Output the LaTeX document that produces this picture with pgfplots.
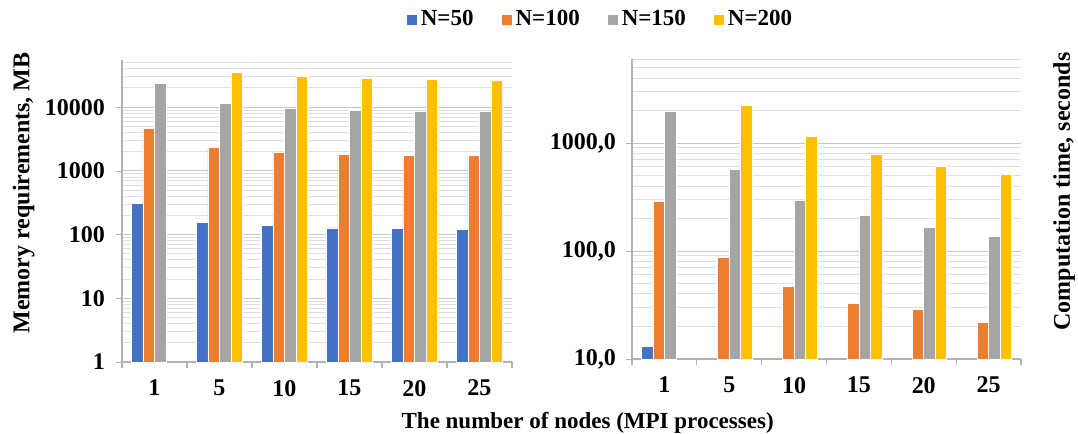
\documentclass[border=0pt]{standalone}
\usepackage{fontspec}
\setmainfont{Liberation Serif}
\usepackage{pgfplots}
\pgfplotsset{compat=1.18}
\definecolor{cA}{HTML}{4472C4}
\definecolor{cB}{HTML}{ED7D31}
\definecolor{cC}{HTML}{A5A5A5}
\definecolor{cD}{HTML}{FFC000}
\begin{document}
\begin{tikzpicture}
\useasboundingbox (0pt,0pt) rectangle (539pt,-217pt);
\begin{axis}[
  scale only axis, anchor=south west,
  at={(61pt,-181pt)}, width=195pt, height=151pt,
  ymode=log, log origin=infty,
  xmin=-0.5, xmax=5.5,
  ybar=0pt, bar width=5.75pt,
  xtick={-0.5,0.5,...,4.5}, xticklabels={1,5,10,15,20,25},
  extra x ticks={5.5}, extra x tick labels={},
  xtick style={draw=gray!60, line width=0.6pt},
  tick align=outside, major tick length=3pt, minor tick length=0pt,
  ytick style={draw=gray!60},
  axis x line*=bottom, axis y line*=left,
  axis line style={gray!60, line width=0.6pt},
  ymajorgrids, yminorgrids,
  major grid style={gray!45, line width=0.5pt},
  minor grid style={gray!25, line width=0.5pt},
  tick label style={font=\fontsize{12}{14}\selectfont\bfseries},
  xticklabel style={xshift=16.25pt, yshift=-2.5pt},
  ymin=1, ymax=55000,
  ytick={1,10,100,1000,10000}, yticklabels={1,10,100,1000,10000},
  minor ytick={2,3,...,9,20,30,...,90,200,300,...,900,2000,3000,...,9000,20000,30000,40000,50000},
  yticklabel style={xshift=-2pt},
  ylabel={Memory requirements, MB},
  y label style={at={(axis description cs:-0.252,0.56)}, rotate=0, anchor=center, font=\fontsize{12}{14}\selectfont\bfseries},
  legend columns=4,
  legend style={at={(axis description cs:1.2295,1.133)}, anchor=center, draw=none, fill=none,
    font=\fontsize{11.5}{13}\selectfont\bfseries,
    /tikz/every even column/.append style={column sep=12pt}},
  legend image code/.code={\fill[#1, draw=none] (0pt,-2.5pt) rectangle (5pt,2.5pt);},
  after end axis/.code={\node[font=\fontsize{11.5}{13}\selectfont\bfseries] at (axis description cs:1.194,-0.203) {The number of nodes (MPI processes)};},
]
\addplot[fill=cA, draw=white, line width=0.4pt] coordinates {(0,310) (1,156) (2,137) (3,127) (4,124) (5,121)};
\addplot[fill=cB, draw=white, line width=0.4pt] coordinates {(0,4690) (1,2335) (2,1972) (3,1836) (4,1771) (5,1771)};
\addplot[fill=cC, draw=white, line width=0.4pt] coordinates {(0,23500) (1,11400) (2,9640) (3,8980) (4,8650) (5,8650)};
\addplot[fill=cD, draw=white, line width=0.4pt] coordinates {(1,34900) (2,30600) (3,28500) (4,27400) (5,26500)};
\legend{N=50,N=100,N=150,N=200}
\end{axis}
\begin{axis}[
  scale only axis, anchor=south west,
  at={(316pt,-179.5pt)}, width=194.5pt, height=150pt,
  ymode=log, log origin=infty,
  xmin=-0.5, xmax=5.5,
  ybar=0pt, bar width=5.75pt,
  xtick={-0.5,0.5,...,4.5}, xticklabels={1,5,10,15,20,25},
  extra x ticks={5.5}, extra x tick labels={},
  xtick style={draw=gray!60, line width=0.6pt},
  tick align=outside, major tick length=3pt, minor tick length=0pt,
  ytick style={draw=gray!60},
  axis x line*=bottom, axis y line*=left,
  axis line style={gray!60, line width=0.6pt},
  ymajorgrids, yminorgrids,
  major grid style={gray!45, line width=0.5pt},
  minor grid style={gray!25, line width=0.5pt},
  tick label style={font=\fontsize{12}{14}\selectfont\bfseries},
  xticklabel style={xshift=16.21pt, yshift=-2.5pt},
  ymin=10, ymax=6000,
  ytick={10,100,1000}, yticklabels={{10,0},{100,0},{1000,0}},
  minor ytick={20,30,...,90,200,300,...,900,2000,3000,4000,5000,6000},
  yticklabel style={xshift=-1.5pt},
  ylabel={Computation time, seconds},
  y label style={at={(axis description cs:1.1105,0.558)}, rotate=0, anchor=center, font=\fontsize{12}{14}\selectfont\bfseries},
]
\addplot[fill=cA, draw=white, line width=0.4pt] coordinates {(0,13.0)};
\addplot[fill=cB, draw=white, line width=0.4pt] coordinates {(0,290) (1,87) (2,46.6) (3,32.8) (4,28.6) (5,21.7)};
\addplot[fill=cC, draw=white, line width=0.4pt] coordinates {(0,1968) (1,574) (2,296) (3,212) (4,164) (5,138)};
\addplot[fill=cD, draw=white, line width=0.4pt] coordinates {(1,2218) (2,1161) (3,785) (4,608) (5,512)};
\end{axis}
\end{tikzpicture}
\end{document}
